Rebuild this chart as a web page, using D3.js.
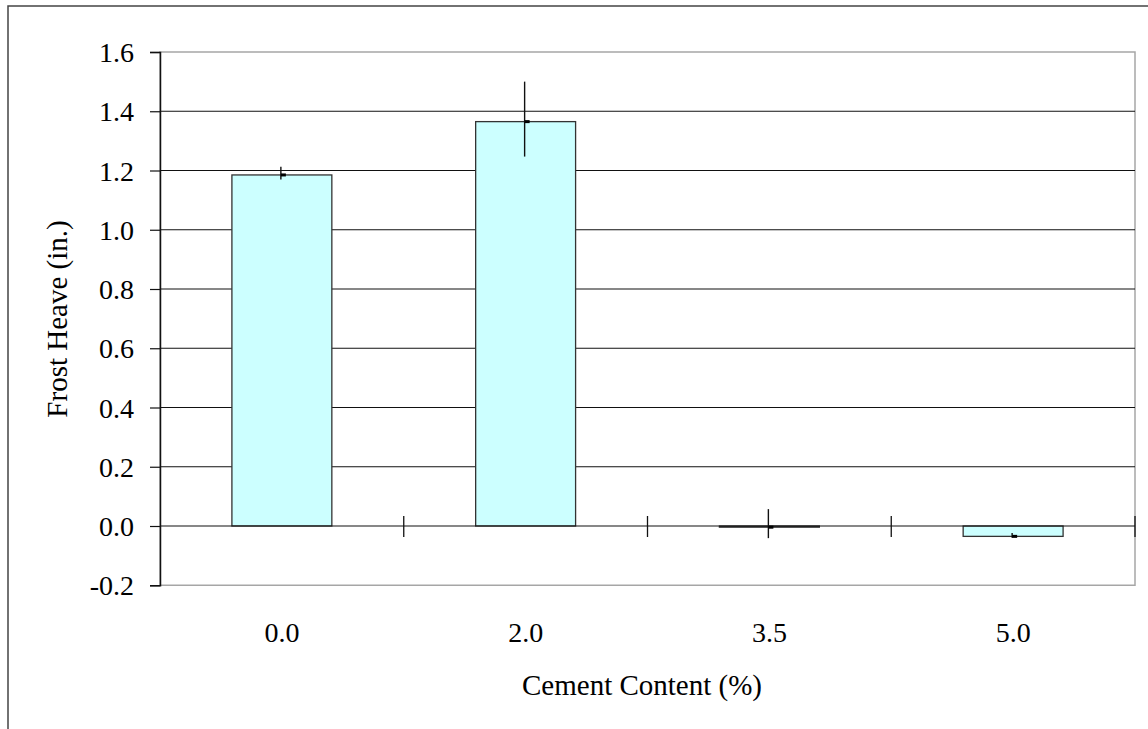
<!DOCTYPE html>
<html><head><meta charset="utf-8">
<script src="https://cdn.jsdelivr.net/npm/d3@7"></script>
<style>body{margin:0;background:#fff}svg{display:block}text{font-family:"Liberation Serif","Times New Roman",serif;fill:#000}</style>
</head><body><svg id="c" width="1148" height="729"></svg>
<script>
const categories = ["0.0", "2.0", "3.5", "5.0"];
const values = [1.185, 1.365, -0.004, -0.035];
const errUp = [0.028, 0.135, 0.061, 0.011];
const errDown = [0.015, 0.118, 0.037, 0.005];
const yTicks = [-0.2, 0, 0.2, 0.4, 0.6, 0.8, 1.0, 1.2, 1.4, 1.6];

const svg = d3.select("#c");
const L = 160, R = 1135, T = 52, B = 585.25;
const x = d3.scaleBand().domain(categories).range([L, R]).padding(0);
const y = d3.scaleLinear().domain([-0.2, 1.6]).range([B, T]);
const bw = x.bandwidth() * 0.41;

// outer frame (top and left visible)
svg.append("path").attr("d", "M8,729V6H1148").attr("fill", "none").attr("stroke", "#444").attr("stroke-width", 1.5);

// plot border (gray)
svg.append("rect").attr("x", L).attr("y", T).attr("width", R - L).attr("height", B - T)
  .attr("fill", "none").attr("stroke", "#a6a6a6").attr("stroke-width", 1.5);

// gridlines
svg.append("g").selectAll("line").data(yTicks.filter(v => v > 0.05 && v < 1.55)).join("line")
  .attr("x1", L).attr("x2", R).attr("y1", d => y(d)).attr("y2", d => y(d))
  .attr("stroke", "#111").attr("stroke-width", 1.2);

// y axis
const ya = svg.append("g").attr("transform", `translate(${L},0)`)
  .call(d3.axisLeft(y).tickValues(yTicks).tickFormat(d3.format(".1f")).tickSize(10).tickPadding(16));
ya.select(".domain").attr("stroke", "#111").attr("stroke-width", 1.5);
ya.selectAll(".tick line").attr("stroke", "#111").attr("stroke-width", 1.2);
ya.selectAll(".tick text").attr("font-size", 28).attr("dy", "0.34em");
ya.selectAll(".tick text").text(d => d < 0 ? "-" + d3.format(".1f")(-d) : d3.format(".1f")(d));

// bars
svg.append("g").selectAll("rect").data(values).join("rect")
  .attr("x", (d, i) => x(categories[i]) + (x.bandwidth() - bw) / 2)
  .attr("width", bw)
  .attr("y", d => Math.min(y(d), y(0)))
  .attr("height", d => Math.abs(y(d) - y(0)))
  .attr("fill", "#ccffff").attr("stroke", "#333").attr("stroke-width", 1.3);

// x axis line at zero
svg.append("line").attr("x1", L).attr("x2", R).attr("y1", y(0)).attr("y2", y(0)).attr("stroke", "#111").attr("stroke-width", 1.2);
// x ticks between categories
const bounds = categories.map(c => x(c) + x.bandwidth());
svg.append("g").selectAll("line").data(bounds).join("line")
  .attr("x1", d => d).attr("x2", d => d).attr("y1", y(0) - 10).attr("y2", y(0) + 11)
  .attr("stroke", "#111").attr("stroke-width", 1.3);

// error bars
const cx = i => x(categories[i]) + x.bandwidth() / 2 - 1;
svg.append("g").selectAll("line").data(values).join("line")
  .attr("x1", (d, i) => cx(i)).attr("x2", (d, i) => cx(i))
  .attr("y1", (d, i) => y(d + errUp[i])).attr("y2", (d, i) => y(d - errDown[i]))
  .attr("stroke", "#111").attr("stroke-width", 1.4);
// mean markers
svg.append("g").selectAll("rect").data(values).join("rect")
  .attr("x", (d, i) => cx(i)).attr("width", 5)
  .attr("y", d => y(d) - 1.5).attr("height", 3).attr("fill", "#000");

// x tick labels
svg.append("g").selectAll("text").data(categories).join("text")
  .attr("x", d => x(d) + x.bandwidth() / 2).attr("y", 642)
  .attr("text-anchor", "middle").attr("font-size", 28).text(d => d);

// axis titles
svg.append("text").attr("x", 642).attr("y", 695).attr("text-anchor", "middle").attr("font-size", 29).text("Cement Content (%)");
svg.append("text").attr("transform", "translate(67,319) rotate(-90)").attr("text-anchor", "middle").attr("font-size", 29).text("Frost Heave (in.)");
</script></body></html>
